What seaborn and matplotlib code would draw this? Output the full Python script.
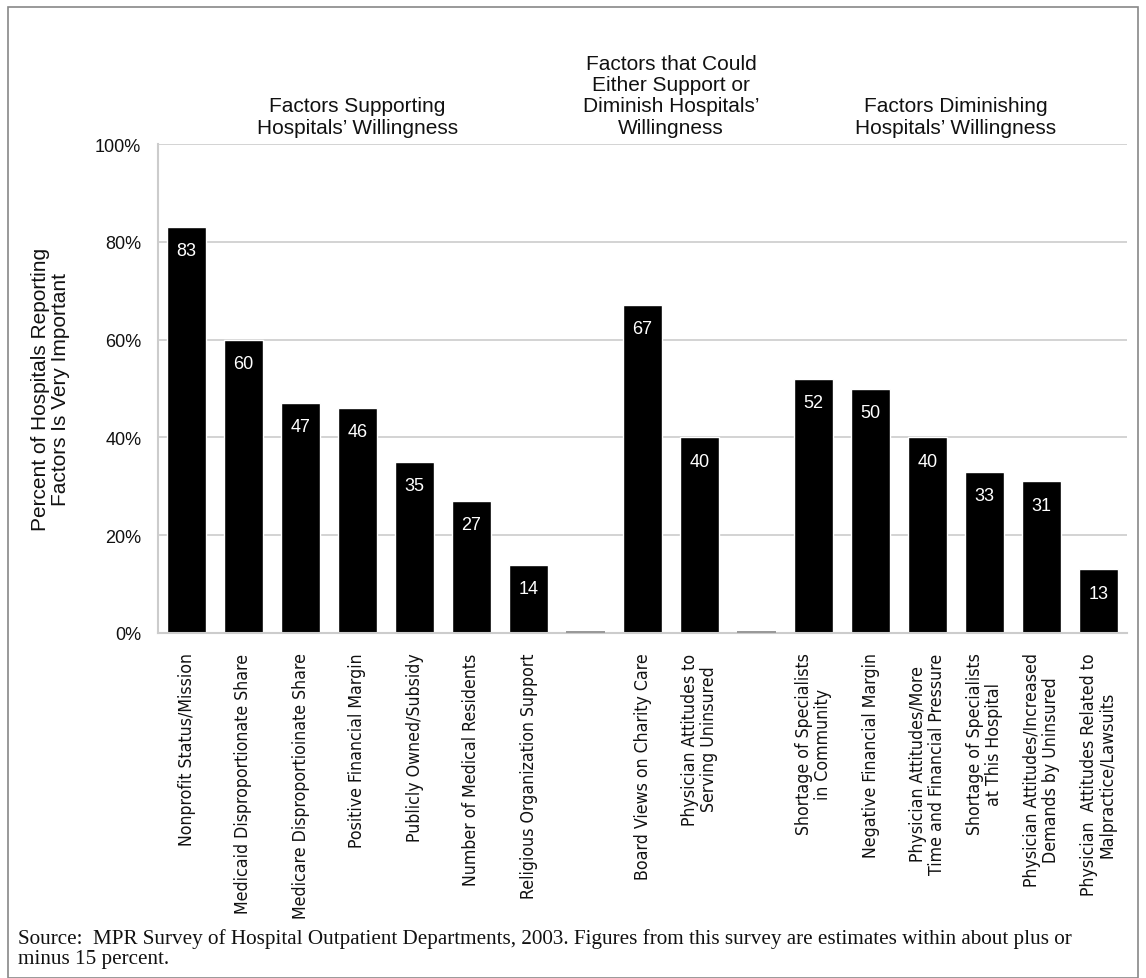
import matplotlib
matplotlib.use("Agg")
import matplotlib.pyplot as plt
import seaborn as sns
import pandas as pd
from matplotlib.patches import Rectangle

sns.set_theme(style="white")
plt.rcParams['font.family'] = ['Liberation Sans', 'DejaVu Sans']

categories = [
    "Nonprofit Status/Mission",
    "Medicaid Disproportionate Share",
    "Medicare Disproportioinate Share",
    "Positive Financial Margin",
    "Publicly Owned/Subsidy",
    "Number of Medical Residents",
    "Religious Organization Support",
    "gap1",
    "Board Views on Charity Care",
    "Physician Attitudes to\nServing Uninsured",
    "gap2",
    "Shortage of Specialists\nin Community",
    "Negative Financial Margin",
    "Physician Attitudes/More\nTime and Financial Pressure",
    "Shortage of Specialists\nat This Hospital",
    "Physician Attitudes/Increased\nDemands by Uninsured",
    "Physician  Attitudes Related to\nMalpractice/Lawsuits",
]
values = [83, 60, 47, 46, 35, 27, 14, 0.4, 67, 40, 0.4, 52, 50, 40, 33, 31, 13]
is_gap = [False]*7 + [True] + [False]*2 + [True] + [False]*6

group_titles = [
    "Factors Supporting\nHospitals\u2019 Willingness",
    "Factors that Could\nEither Support or\nDiminish Hospitals\u2019\nWillingness",
    "Factors Diminishing\nHospitals\u2019 Willingness",
]
group_spans = [(0, 6), (8, 9), (11, 16)]

yticks = [0, 20, 40, 60, 80, 100]

df = pd.DataFrame({"cat": categories, "val": values})
palette = {c: ("#ffffff" if g else "black") for c, g in zip(categories, is_gap)}

fig = plt.figure(figsize=(11.46, 9.79), dpi=100)
ax = fig.add_axes([158/1146, 1-634/979, (1127-158)/1146, (634-145)/979])

sns.barplot(data=df, x="cat", y="val", hue="cat", palette=palette, legend=False,
            order=categories, width=0.7, saturation=1, ax=ax)
for p, g in zip(ax.patches, is_gap):
    if g:
        p.set_facecolor("#999999")
        p.set_edgecolor("none")
        p.set_zorder(3)

ax.set_ylim(0, 100)
ax.set_xlim(-0.5, len(categories)-0.5)
ax.set_yticks(yticks)
ax.set_yticklabels([f"{t}%" for t in yticks], fontsize=13, color="#111111")
ax.yaxis.grid(True, color="#cccccc", linewidth=1.2)
ax.set_axisbelow(True)
ax.tick_params(axis="y", length=0, pad=12)

ax.set_xticks(range(len(categories)))
ax.set_xticklabels(["" if g else c for c, g in zip(categories, is_gap)],
                   rotation=90, fontsize=12.7, family=["DejaVu Sans"], fontstretch="condensed",
                   va="top", ha="center", color="#111111", linespacing=1.05)
ax.tick_params(axis="x", which="major", length=0, pad=14)
ax.set_xticks([i - 0.5 for i in range(len(categories)+1)], minor=True)
ax.tick_params(axis="x", which="minor", direction="in", length=8, color="#cccccc", width=1.2)
ax.set_xlabel("")

for s in ["top", "right"]:
    ax.spines[s].set_visible(False)
for s in ["left", "bottom"]:
    ax.spines[s].set_color("#cccccc")
    ax.spines[s].set_linewidth(1.5)

ax.set_ylabel("Percent of Hospitals Reporting\nFactors Is Very Important", fontsize=15,
              color="#111111", labelpad=18, linespacing=1.1)

for i, (v, g) in enumerate(zip(values, is_gap)):
    if g:
        continue
    ax.annotate(f"{v}", (i, v), xytext=(0, -17), textcoords="offset points",
                ha="center", va="center", color="white", fontsize=13)

for title, (a, b) in zip(group_titles, group_spans):
    ax.text((a+b)/2, 101.5, title, ha="center", va="bottom", fontsize=15,
            color="#111111", linespacing=1.15, transform=ax.transData)

fig.text(18/1146, 1-949/979, "Source:  MPR Survey of Hospital Outpatient Departments, 2003. Figures from this survey are estimates within about plus or\nminus 15 percent.",
         family=["Liberation Serif", "DejaVu Serif"], fontsize=15.2, va="center", ha="left",
         linespacing=1.12, color="#111111")

fig.patches.append(Rectangle((8/1146, 0.0), (1138-8)/1146, 1-8/979, transform=fig.transFigure,
                             fill=False, edgecolor="#888888", linewidth=1.2))

fig.savefig("out.png", dpi=100)
